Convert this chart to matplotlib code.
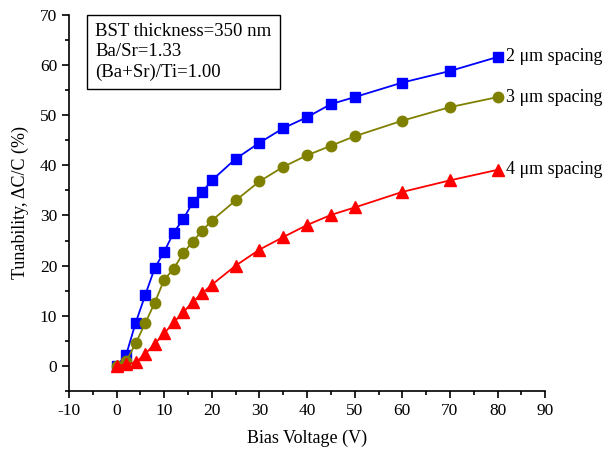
import matplotlib
matplotlib.use("Agg")
import matplotlib.pyplot as plt
from matplotlib.ticker import MultipleLocator

plt.rcParams['font.family'] = ['Liberation Serif', 'DejaVu Serif']
plt.rcParams['axes.unicode_minus'] = False

voltage = [0, 2, 4, 6, 8, 10, 12, 14, 16, 18, 20, 25, 30, 35, 40, 45, 50, 60, 70, 80]
tun_2um = [0.0, 2.2, 8.6, 14.1, 19.5, 22.8, 26.6, 29.3, 32.6, 34.7, 37.0, 41.3, 44.5, 47.4, 49.6, 52.2, 53.6, 56.5, 58.8, 61.6]
tun_3um = [0.0, 0.9, 4.5, 8.5, 12.6, 17.2, 19.4, 22.5, 24.8, 27.0, 29.0, 33.0, 36.8, 39.7, 42.0, 43.9, 45.8, 48.9, 51.6, 53.6]
tun_4um = [0.0, 0.3, 0.7, 2.4, 4.4, 6.5, 8.7, 10.7, 12.8, 14.5, 16.2, 20.0, 23.2, 25.7, 28.1, 30.1, 31.6, 34.7, 37.0, 39.1]
series_labels = ["2 \u03bcm spacing", "3 \u03bcm spacing", "4 \u03bcm spacing"]
info_lines = ["BST thickness=350 nm", "Ba/Sr=1.33", "(Ba+Sr)/Ti=1.00"]

fig = plt.figure(figsize=(6.16, 4.5), dpi=100)
ax = fig.add_axes([0.112, 0.131, 0.773, 0.836])

styles = [("#0000FF", "s", 6.5), ("#808000", "o", 7.5), ("#FF0000", "^", 8)]
for ys, (c, m, ms), lab in zip([tun_2um, tun_3um, tun_4um], styles, series_labels):
    ax.plot(voltage, ys, color=c, marker=m, markersize=ms, linewidth=1.3,
            markeredgecolor=c, clip_on=False, zorder=3)
    ax.annotate(lab, xy=(voltage[-1], ys[-1]), xytext=(6, 0),
                textcoords="offset points", va="center", ha="left", fontsize=13)

ax.set_xlim(-10, 90)
ax.set_ylim(-5, 70)
ax.xaxis.set_major_locator(MultipleLocator(10))
ax.xaxis.set_minor_locator(MultipleLocator(5))
ax.yaxis.set_major_locator(MultipleLocator(10))
ax.yaxis.set_minor_locator(MultipleLocator(5))
ax.tick_params(which='major', direction='out', length=5, width=1.2, labelsize=12.5)
ax.tick_params(which='minor', direction='out', length=3, width=1.2)
for s in ['top', 'right']:
    ax.spines[s].set_visible(False)
for s in ['left', 'bottom']:
    ax.spines[s].set_linewidth(1.2)

ax.set_xlabel("Bias Voltage (V)", fontsize=13, labelpad=8)
ax.set_ylabel("Tunability, \u0394C/C (%)", fontsize=13, labelpad=8)

ax.text(0.055, 0.978, "\n".join(info_lines), transform=ax.transAxes,
        va="top", ha="left", fontsize=13.5, linespacing=1.25,
        bbox=dict(boxstyle="square,pad=0.45", facecolor="white", edgecolor="black", linewidth=1.0))

fig.savefig("out.png", dpi=100)
